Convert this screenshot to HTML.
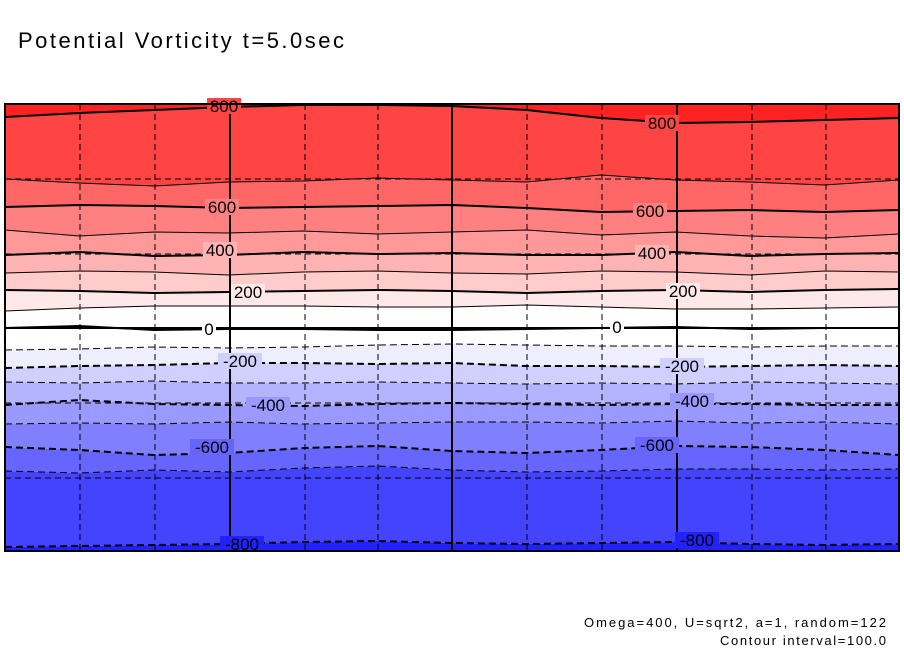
<!DOCTYPE html>
<html><head><meta charset="utf-8"><style>
body{margin:0;background:#fff;width:904px;height:654px;overflow:hidden}
svg{display:block}
text{font-family:"Liberation Sans",sans-serif}
</style></head><body>
<svg id="c" width="904" height="654">
<text x="18" y="48" font-size="22" textLength="326">Potential Vorticity t=5.0sec</text>
<g id="bands"></g>
<g id="grid"></g>
<g id="lines"></g>
<g id="labels"></g>
<rect x="5" y="104" width="894" height="447" fill="none" stroke="#000" stroke-width="2"/>
<text x="886" y="627" font-size="13" text-anchor="end" textLength="302">Omega=400, U=sqrt2, a=1, random=122</text>
<text x="886" y="645" font-size="13" text-anchor="end" textLength="166">Contour interval=100.0</text>
</svg>
<script>
const levels=[800,700,600,500,400,300,200,100,0,-100,-200,-300,-400,-500,-600,-700,-800];
const contourY=[
[117,113,110,107,105,105,106,110,118,123,122,120,118],
[179,183,186,182,181,178,180,182,175,180,182,185,180],
[207,205,206,208,207,206,205,208,212,211,210,212,210],
[230,236,232,233,231,234,232,230,235,232,236,238,234],
[255,252,256,255,252,254,253,255,255,252,256,254,253],
[273,271,272,275,272,271,273,274,271,272,275,271,272],
[290,291,293,292,291,290,291,293,291,290,292,290,289],
[311,308,306,306,306,307,307,305,307,309,309,308,307],
[328,326,330,329,329,330,330,329,328,327,329,328,328],
[350,349,347,348,347,345,344,345,346,346,347,346,346],
[368,366,365,363,363,364,363,366,366,367,366,365,366],
[382,383,381,383,383,382,383,384,383,384,382,383,384],
[405,400,404,405,406,404,403,404,405,404,404,405,405],
[424,423,424,422,424,423,422,422,423,421,423,422,424],
[447,450,455,453,448,446,451,453,450,446,447,450,455],
[471,473,470,472,468,466,470,472,471,469,469,470,469],
[547,546,545,544,542,541,543,544,543,542,544,545,544]];
const bandColors=["#ff2222","#ff4444","#ff6666","#ff8080","#ff9999","#ffb3b3","#ffcccc","#ffe8e8","#ffffff","#ffffff","#eeeeff","#d0d0ff","#b3b3ff","#9999ff","#8080ff","#6666ff","#4444ff","#2222ff"];
const labelLevels=[800,800,600,600,400,400,200,200,0,0,-200,-200,-400,-400,-600,-600,-800,-800];
const labelX=[224,662,222,650,220,652,248,683,209,617,240,682,268,692,212,657,242,697];
const labelYs=[106,123,207,211,250,253,292,291,329,327,361,366,405,401,447,445,544,540];
const X0=5,X1=899,Y0=104,Y1=551,N=13;
const xs=i=>X0+(X1-X0)*i/(N-1);
const ns="http://www.w3.org/2000/svg";
function mk(t,a,p){const e=document.createElementNS(ns,t);for(const k in a)e.setAttribute(k,a[k]);p.appendChild(e);return e;}
function pts(row){return row.map((y,i)=>xs(i)+","+y);}
const B=document.getElementById('bands');
for(let b=0;b<=levels.length;b++){
  let top=b==0?Array(N).fill(Y0):contourY[b-1];
  let bot=b==levels.length?Array(N).fill(Y1):contourY[b];
  const p=pts(top).concat(pts(bot).reverse()).join(" ");
  const e=mk('polygon',{points:p,fill:bandColors[b]},B);
  
  
}
const G=document.getElementById('grid');
[80,155,230,305,378,452,527,602,677,752,826].forEach(x=>{
  const solid=(x==230||x==452||x==677);
  const e=mk('line',{x1:x,x2:x,y1:Y0,y2:Y1,stroke:'#000','stroke-width':solid?2:1,'stroke-dasharray':solid?'':'6,4'},G);
  
  
});
[179,254,328,403,478].forEach(y=>{
  const solid=(y==328);
  const e=mk('line',{x1:X0,x2:X1,y1:y,y2:y,stroke:'#000','stroke-width':solid?2:1,'stroke-dasharray':solid?'':'6,4'},G);
  
  
});
const L=document.getElementById('lines');
levels.forEach((lv,i)=>{
  const thick=lv%200==0;
  const e=mk('polyline',{points:pts(contourY[i]).join(" "),fill:'none',stroke:'#000','stroke-width':thick?2:1,'stroke-dasharray':lv<0?'7,4':''},L);
  
  
});
const T=document.getElementById('labels');
labelLevels.forEach((lv,i)=>{
  const w=String(lv).length*10+4;
  const r=mk('rect',{x:labelX[i]-w/2,y:labelYs[i]-8,width:w,height:16,fill:bandColors[levels.indexOf(lv)+1]},T);
  
  
  const t=mk('text',{x:labelX[i],y:labelYs[i]+6,'font-size':17,'text-anchor':'middle'},T);
  t.textContent=lv;
  
  
});
</script>
</body></html>
